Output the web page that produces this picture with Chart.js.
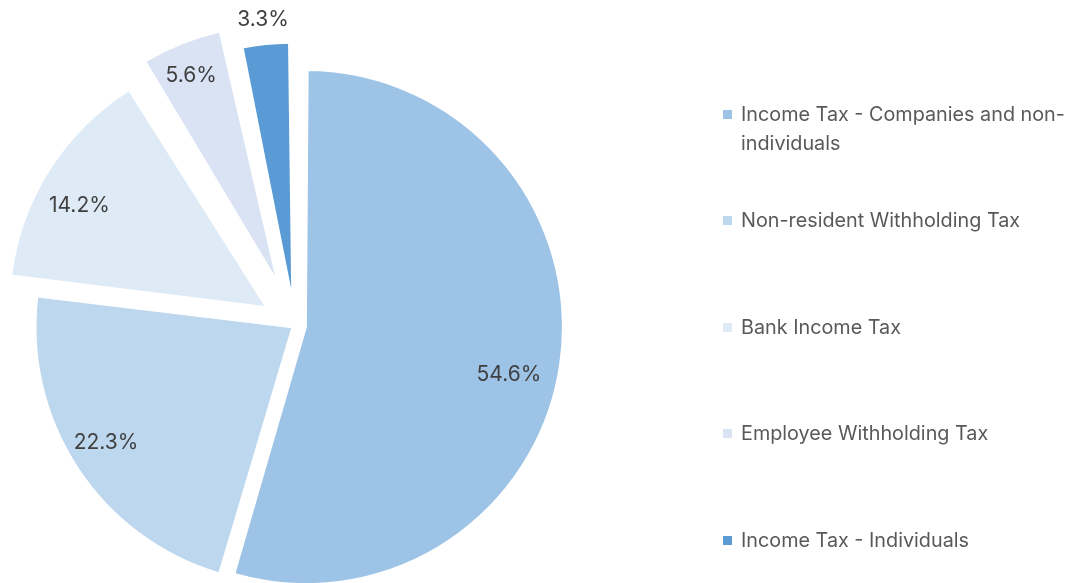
<!DOCTYPE html>
<html>
<head>
<meta charset="utf-8">
<script src="https://cdn.jsdelivr.net/npm/chart.js@4.4.1/dist/chart.umd.min.js"></script>
<style>
  html, body { margin: 0; padding: 0; background: #ffffff; }
  #wrap { position: relative; width: 1066px; height: 583px; overflow: hidden; }
  #pie { position: absolute; left: 0; top: 0; }
  .legend-item {
    position: absolute; left: 723px; width: 360px;
    font-family: Inter, "Noto Sans", sans-serif; font-size: 19.8px; line-height: 29px;
    color: #595959;
  }
  .legend-item .swatch { position: absolute; left: 0; top: 10px; width: 9px; height: 9px; }
  .legend-item .text { margin-left: 18px; width: 338px; }
</style>
</head>
<body>
<div id="wrap">
  <canvas id="pie" width="1066" height="583"></canvas>
  <div id="legend"></div>
</div>
<script>
// Tax revenue shares, in percent
const categories = [
  'Income Tax - Companies and non-individuals',
  'Non-resident Withholding Tax',
  'Bank Income Tax',
  'Employee Withholding Tax',
  'Income Tax - Individuals'
];
const shares = [54.6, 22.3, 14.2, 5.6, 3.3];

// Look of each slice
const sliceColors = ['#9DC3E6', '#BDD7EE', '#DEEBF7', '#DAE3F3', '#5B9BD5'];
const explode = [11, 3, 34, 47, 26];                  // pixels each slice is pulled out
const labelDistance = [0.81, 0.85, 0.83, 0.875, 1.10]; // label position, fraction of radius
const labelTurn = [4.4, 1.9, -3.6, -0.6, 0];           // label angle tweak, degrees
const RADIUS = 257;

// Chart.js draws an exploded arc shifted by offset/4 and grows its radius a little;
// keep every slice at the same visible radius.
const evenRadius = {
  id: 'evenRadius',
  afterDatasetsUpdate(chart) {
    chart.getDatasetMeta(0).data.forEach((arc, i) => {
      const fix = 1 - Math.sin(Math.min(Math.PI, arc.circumference || 0));
      arc.outerRadius = RADIUS - explode[i] * fix;
    });
  }
};

// Percentage labels on the slices
const sliceLabels = {
  id: 'sliceLabels',
  afterDatasetsDraw(chart) {
    const ctx = chart.ctx;
    const meta = chart.getDatasetMeta(0);
    ctx.save();
    ctx.font = '21px Inter, "Noto Sans", sans-serif';
    ctx.fillStyle = '#404040';
    ctx.textAlign = 'center';
    ctx.textBaseline = 'middle';
    meta.data.forEach((arc, i) => {
      const mid = (arc.startAngle + arc.endAngle) / 2;
      const ox = arc.x + Math.cos(mid) * explode[i];
      const oy = arc.y + Math.sin(mid) * explode[i];
      const a = mid + labelTurn[i] * Math.PI / 180;
      const d = labelDistance[i] * RADIUS;
      ctx.fillText(shares[i].toFixed(1) + '%', ox + Math.cos(a) * d, oy + Math.sin(a) * d + 1.5);
    });
    ctx.restore();
  }
};

new Chart(document.getElementById('pie'), {
  type: 'pie',
  data: {
    labels: categories,
    datasets: [{
      data: shares,
      backgroundColor: sliceColors,
      borderColor: '#ffffff',
      borderWidth: 2,
      offset: explode.map(v => v * 4),
      radius: RADIUS
    }]
  },
  options: {
    responsive: false,
    animation: false,
    events: [],
    layout: { padding: { left: 0, right: 476, top: 68, bottom: 0 } },
    plugins: { legend: { display: false }, tooltip: { enabled: false } }
  },
  plugins: [evenRadius, sliceLabels]
});

// Legend on the right
const firstLineCenters = [114, 220.5, 327, 433.5, 540];
const legend = document.getElementById('legend');
categories.forEach((name, i) => {
  const item = document.createElement('div');
  item.className = 'legend-item';
  item.style.top = (firstLineCenters[i] - 14.5) + 'px';
  const sw = document.createElement('div');
  sw.className = 'swatch';
  sw.style.background = sliceColors[i];
  const tx = document.createElement('div');
  tx.className = 'text';
  tx.textContent = name;
  item.appendChild(sw);
  item.appendChild(tx);
  legend.appendChild(item);
});
</script>
</body>
</html>
